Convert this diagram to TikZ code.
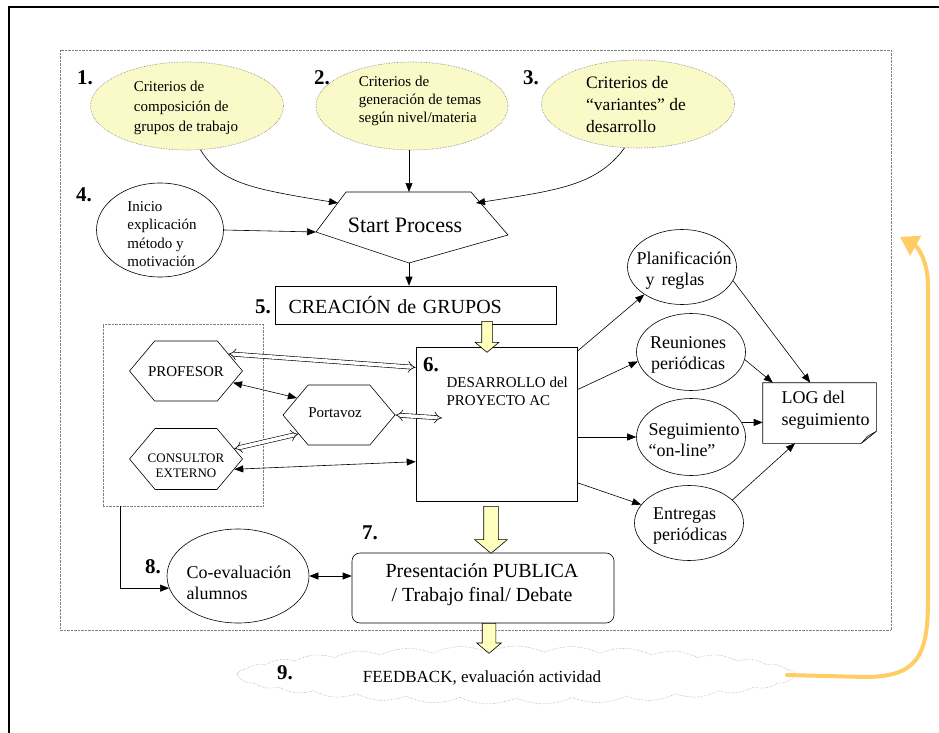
\documentclass[tikz,border=0pt]{standalone}
\usepackage{fontspec}
\setmainfont{Liberation Serif}
\usetikzlibrary{arrows.meta}
\usetikzlibrary{shapes.geometric}
\usetikzlibrary{shapes.symbols}
\usetikzlibrary{shapes.arrows}

\definecolor{critfill}{RGB}{250,250,200}
\definecolor{blockfill}{RGB}{255,255,190}
\definecolor{loopcol}{RGB}{255,204,102}

\newcommand{\setfs}[2]{\fontsize{#1}{#2}\selectfont}

\tikzset{
  crit/.style={ellipse, draw=gray, densely dotted, fill=critfill, inner sep=0pt},
  oval/.style={ellipse, draw, fill=white, inner sep=0pt},
  hexa/.style={signal, signal to=east and west, signal pointer angle=100, draw, fill=white, inner sep=0pt},
  yarrow/.style={single arrow, draw, fill=blockfill, rotate=-90, anchor=tail, single arrow tip angle=100},
  num/.style={font=\setfs{21}{21}\bfseries},
  arr/.style={-{Triangle[length=9pt,width=7pt]}},
  arrtwo/.style={{Triangle[length=9pt,width=7pt]}-{Triangle[length=9pt,width=7pt]}},
  hollow/.style={double, double distance=3.5pt, {Implies[scale=1.5]}-{Implies[scale=1.5]}},
  loopline/.style={draw=loopcol, line width=4pt, line cap=round, -{Triangle[length=18pt,width=22pt]}}
}

\begin{document}
\begin{tikzpicture}[x=1pt,y=-1pt,semithick]
\useasboundingbox (0,0) rectangle (939,733);
\draw[line width=2pt] (9,745) -- (9,7) -- (950,7); % page frame
\draw[gray, densely dotted, thin] (60,50) rectangle (891,630); % work area

% criteria 1-3
\node[crit, minimum width=193, minimum height=88] (e1) at (187,106) {};
\node[align=left, font=\setfs{15}{20}] (e1t) at (186,108) {Criterios de\\composición de\\grupos de trabajo};
\node[crit, minimum width=192, minimum height=88] (e2) at (412,106) {};
\node[align=left, font=\setfs{15}{18}] (e2t) at (420,101) {Criterios de\\generación de temas\\según nivel/materia};
\node[crit, minimum width=193, minimum height=88] (e3) at (638,104) {};
\node[align=left, font=\setfs{17.5}{22}] (e3t) at (636,105) {Criterios de\\“variantes” de\\desarrollo};
\node[num] (n1) at (85,78) {1.};
\node[num] (n2) at (322,78) {2.};
\node[num] (n3) at (531,78) {3.};

% 4. inicio
\node[oval, minimum width=127, minimum height=94] (e4) at (160,230) {};
\node[align=left, font=\setfs{15}{18.5}] (e4t) at (162,234) {Inicio\\explicación\\método y\\motivación};
\node[num] (n4) at (84,195) {4.};

% start process
\coordinate (sptl) at (346,192);
\coordinate (sptr) at (471,192);
\coordinate (spr) at (508,235);
\coordinate (spb) at (409,263);
\coordinate (spl) at (316,232);
\coordinate (spin1) at (338,203);
\coordinate (spin3) at (476,203);
\draw (sptl) -- (sptr) -- (spr) -- (spb) -- (spl) -- cycle;
\node[font=\setfs{22}{24}] (sp) at (405,225) {Start Process};

\draw[arr] (e1.-73) .. controls (221,182) and (245,188) .. (spin1);
\draw[arr] (e2.south -| spb) -- (spb |- sptl);
\draw[arr] (e3.-107) .. controls (597,185) and (560,190) .. (spin3);
\draw[arr] (e4.east) -- (spl);

% 5. grupos
\node[draw, minimum width=281, minimum height=38, text width=255, align=left, font=\setfs{20}{22}] (b5) at (416,305) {CREACIÓN de GRUPOS};
\node[num] (n5) at (263,307) {5.};
\draw[arr] (spb) -- (spb |- b5.north);

% team box
\node[draw=gray, densely dotted, thin, minimum width=160, minimum height=182] (team) at (183,415) {};
\node[hexa, minimum width=113, minimum height=60] (prof) at (186,371) {};
\node[font=\setfs{15}{18}] (proft) at (186,372) {PROFESOR};
\node[hexa, minimum width=113, minimum height=61] (cons) at (186,459) {};
\node[align=center, font=\setfs{13}{15}] (const) at (186,466) {CONSULTOR\\EXTERNO};
\node[hexa, minimum width=112, minimum height=60] (port) at (339,415) {};
\node[font=\setfs{15}{18}] (portt) at (335,413) {Portavoz};

% 6. desarrollo
\node[draw, fill=white, minimum width=161, minimum height=154] (b6) at (496.5,424) {};
\node[num] (n6) at (431,365) {6.};
\node[align=left, anchor=west, font=\setfs{15}{18}] (b6t) at (443,391) {DESARROLLO del\\PROYECTO AC};
\coordinate (pin) at (442,418);
\node[yarrow, minimum height=31, inner sep=5pt, single arrow head extend=6.5pt] (a56) at (487,321) {};

\draw[hollow] (prof.22) -- (b6.145);
\draw[arrtwo] (prof.-14) -- (port.158);
\draw[hollow] (cons.12) -- (port.205);
\draw[hollow] (port.east) -- (pin);
\draw[arrtwo] (cons.-12) -- (b6.205);

% seguimiento
\node[oval, minimum width=109, minimum height=75] (plan) at (682,267) {};
\node[align=left, font=\setfs{18}{21}] (plant) at (684,271) {Planificación\\\hspace*{9pt}y\hspace{7pt}reglas};
\node[oval, minimum width=109, minimum height=77] (reun) at (691,352) {};
\node[align=center, font=\setfs{18}{21}] (reunt) at (688,355) {Reuniones\\periódicas};
\node[oval, minimum width=109, minimum height=77] (seg) at (691,437) {};
\node[align=left, font=\setfs{18}{21}] (segt) at (694,440) {Seguimiento\\“on-line”};
\node[oval, minimum width=109, minimum height=75] (entr) at (689,523) {};
\node[align=left, font=\setfs{18}{21}] (entrt) at (690,526) {Entregas\\periódicas};

\draw[arr] (b6.42) -- (plan.216);
\draw[arr] (b6.23) -- (reun.190);
\draw[arr] (b6.east |- seg.west) -- (seg.west);
\draw[arr] (b6.-36) -- (entr.159);

% log
\node[minimum width=113, minimum height=60] (log) at (819.5,413) {};
\node[align=left, anchor=west, font=\setfs{18}{22}] (logt) at (778,410) {LOG del\\seguimiento};
\draw (log.north west) -- (log.north east) -- ([yshift=12pt]log.south east) -- ([xshift=-15pt]log.south east) -- (log.south west) -- cycle;
\filldraw[fill=lightgray, thin] ([yshift=12pt]log.south east) -- ([xshift=-15pt]log.south east) -- ([xshift=-9pt,yshift=7pt]log.south east) -- cycle; % folded corner

\draw[arr] (plan.-15) -- (log.107);
\draw[arr] (reun.-8) -- (log.147);
\draw[arr] (seg.16) -- (seg.16 -| log.west);
\draw[arr] (entr.28) -- (log.231);

% 7. presentacion, 8. co-evaluacion
\node[draw, rounded corners=8pt, minimum width=262, minimum height=70] (b7) at (483,588) {};
\node[align=center, font=\setfs{20}{24}] (b7t) at (482,585) {Presentación PUBLICA\\/ Trabajo final/ Debate};
\node[num] (n7) at (370,533) {7.};
\node[yarrow, minimum height=47, inner sep=7pt, single arrow head extend=9pt] (a67) at (491,506) {};

\node[oval, minimum width=142, minimum height=94] (e8) at (238,576) {};
\node[align=left, font=\setfs{18}{21}] (e8t) at (239,583) {Co-evaluación\\alumnos};
\node[num] (n8) at (153,567) {8.};
\draw[arrtwo] (e8.east) -- (e8.east -| b7.west);
\draw[arr] ([xshift=17pt]team.south west) |- (e8.190);

% 9. feedback
\node[cloud, cloud puffs=31, cloud puff arc=50, cloud ignores aspect, draw=gray, densely dotted, thin, minimum width=557, minimum height=58] (fb) at (516,675) {};
\node[num] (n9) at (285,673) {9.};
\node[font=\setfs{17}{20}] (fbt) at (482,678) {FEEDBACK, evaluación actividad};
\node[yarrow, minimum height=30, inner sep=6.5pt, single arrow head extend=5.5pt] (a79) at (489,623) {};

\coordinate (loopend) at (900,237);
\draw[loopline] ([xshift=-8pt]fb.east) -- (865,677) .. controls (918,677) and (928,655) .. (928,600) -- (928,285) .. controls (928,262) and (918,247) .. (loopend);
\end{tikzpicture}
\end{document}
